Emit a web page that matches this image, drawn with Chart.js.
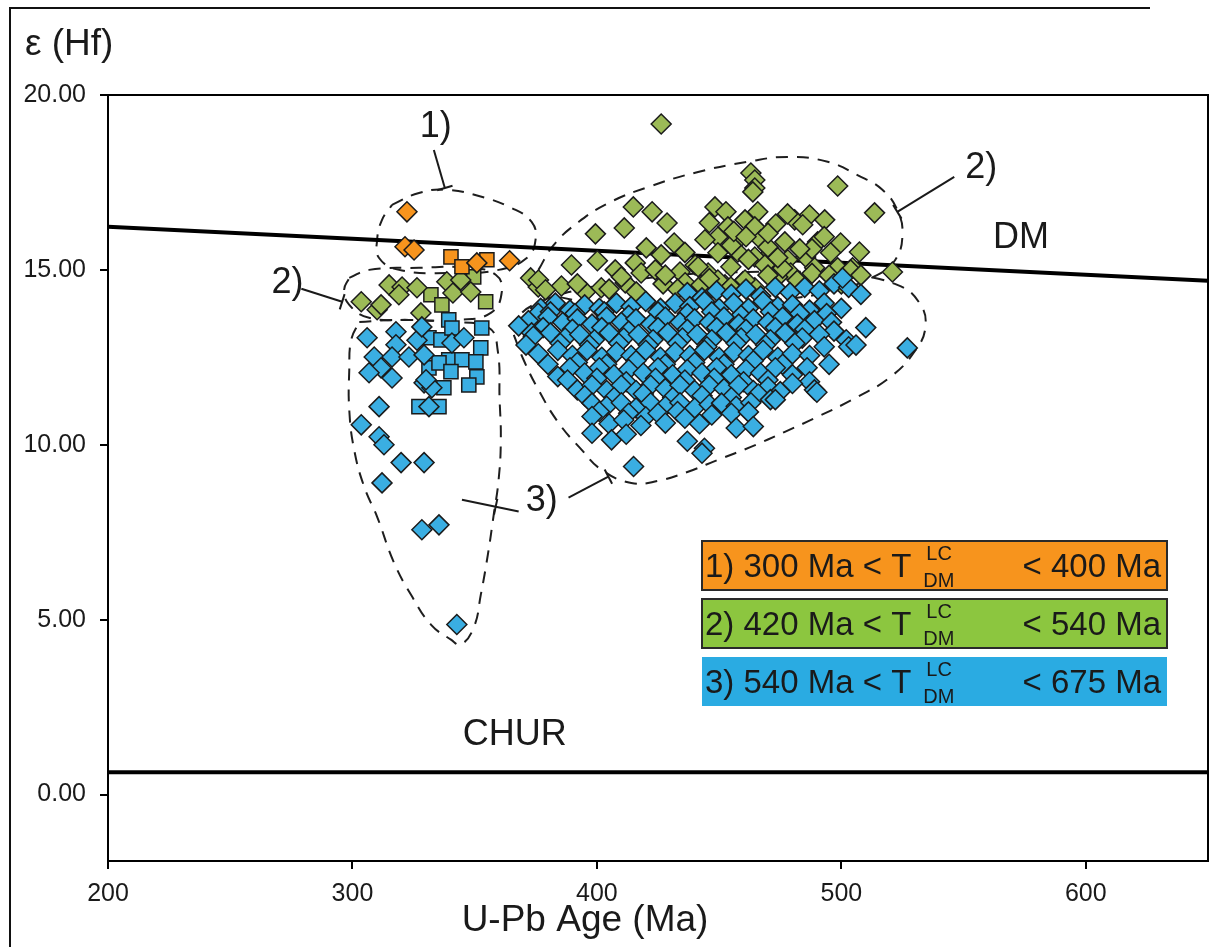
<!DOCTYPE html>
<html>
<head>
<meta charset="utf-8">
<title>εHf vs U-Pb age</title>
<script src="https://cdn.jsdelivr.net/npm/chart.js@4.4.1/dist/chart.umd.min.js"></script>
<style>
    html, body { margin: 0; padding: 0; background: #fff; }
    #wrap { width: 1215px; height: 947px; }
</style>
</head>
<body>
<div id="wrap"><canvas id="chart" width="1215" height="947"></canvas></div>
<script>
const FONT = '"Liberation Sans", Arial, Helvetica, sans-serif';

// Axes
const xRange = [200, 650];
const yRange = [-1.9, 20];
const xTicks = [200, 300, 400, 500, 600];
const yTicks = [0, 5, 10, 15, 20];

// Reference lines
const dmLine = [[200, 16.23], [650, 14.69]];
const churLine = [[200, 0.64], [650, 0.64]];

// 1) orange group
const orangeDiamonds = [[322.3, 16.66], [321.5, 15.66], [325.2, 15.57], [350.9, 15.2], [364.3, 15.26]];
const orangeSquares = [[340.3, 15.37], [344.8, 15.09], [355, 15.29]];

// 2) green group
const greenSquares = [[332.1, 14.29], [336.6, 14.0], [349.6, 14.8], [354.5, 14.09]];
const greenDiamonds = [
    [303.6, 14.09], [310.1, 13.86], [311.7, 14.0], [315, 14.57], [320.3, 14.51], [319, 14.29],
    [326.4, 14.49], [328, 13.77], [338.6, 14.66], [341.1, 14.34], [344.3, 14.71], [348.4, 14.37],
    [372.9, 14.77], [376, 14.51], [389.6, 15.14], [395.3, 14.37],
    [426.3, 19.17], [463, 17.77], [464.6, 17.57], [464.6, 17.34], [498.5, 17.4], [513.6, 16.63], [463.8, 17.23],
    [414.9, 16.8], [422.6, 16.66], [428.7, 16.34], [411.2, 16.2], [399.4, 16.03], [431.6, 15.77],
    [420.2, 15.63], [426.3, 15.43], [400.2, 15.26], [407.5, 15.0], [415.7, 15.2], [418.1, 14.91],
    [423.9, 15.0], [411.6, 14.63], [416.1, 14.37], [427.1, 14.6], [434, 14.94], [440.2, 15.14],
    [445.5, 14.91], [436.1, 14.63], [442.6, 14.57], [452.4, 14.57], [459.7, 14.66], [464.6, 14.49],
    [385.5, 14.54], [376.1, 14.71], [379, 14.43], [401.8, 14.49],
    [448.3, 16.8], [452.8, 16.66], [453.6, 16.23], [460.6, 16.43], [465.8, 16.66], [464.6, 16.23],
    [449.5, 15.94], [457.7, 15.86], [467.1, 15.86], [473.2, 16.31], [476.9, 15.8], [480.9, 16.43],
    [487, 16.57], [493.2, 16.43], [484.2, 16.29], [490.3, 15.8], [499.7, 15.77], [507.4, 15.51],
    [520.9, 14.94], [449.5, 15.49], [457.7, 15.51], [464.6, 15.37], [471.2, 15.49], [478.1, 15.29],
    [485.4, 15.37], [495.6, 15.49], [504.6, 15.06], [498.5, 15.06], [454.8, 15.09], [468.7, 15.14],
    [479.3, 14.91], [489.1, 15.06], [460.6, 14.71], [474, 14.8], [449.5, 14.71], [454.8, 14.51],
    [444.2, 15.86], [441.4, 15.09], [503.8, 15.0],
    [392, 14.6], [405, 14.45], [410, 14.8], [428, 14.85], [433, 14.45], [446, 14.75], [462, 15.3],
    [470, 14.85], [476, 15.05], [482, 14.7], [488, 14.9], [495, 14.85], [500, 14.6], [508, 14.85],
    [488, 15.6], [470, 15.65], [455, 15.7], [436, 15.5], [456, 16.1], [470, 16.05], [478, 16.6],
    [461, 15.95], [483, 15.6], [493, 15.95], [446, 16.35], [474, 15.35]
];

// 3) blue group
const blueSquares = [
    [331.3, 13.06], [336.2, 13.0], [339.4, 13.57], [340.7, 13.34], [352.9, 13.34], [352.5, 12.77],
    [339.4, 12.43], [344.8, 12.43], [350.5, 12.37], [331.3, 12.2], [335.4, 12.34], [340.3, 12.09],
    [350.9, 11.94], [347.6, 11.71], [337.4, 11.63], [327.2, 11.09], [335.4, 11.09]
];
const blueDiamonds = [
    // left cluster
    [306, 13.06], [317.8, 13.23], [308.9, 12.51], [317.8, 12.86], [316.2, 12.51], [323.1, 12.51],
    [326.4, 12.99], [311.7, 12.2], [306.8, 12.06], [316.2, 11.91], [329.3, 12.57], [340.7, 12.91],
    [345.6, 13.06], [329.3, 11.77], [332.5, 11.63], [331.3, 11.09], [310.9, 11.09], [303.6, 10.57],
    [328.4, 13.37], [330.1, 11.86], [310.9, 10.23], [312.9, 10.0], [319.9, 9.49], [329.3, 9.49],
    [312.1, 8.91], [328.4, 7.57], [335.4, 7.71], [342.7, 4.86],
    // right cluster
    [437, 14.35], [443, 14.2], [449, 14.4], [455, 14.3], [461, 14.45], [467, 14.25], [473, 14.5],
    [479, 14.35], [485, 14.5], [491, 14.4], [497, 14.6], [503, 14.5], [508, 14.3], [500.5, 14.77],
    [377, 13.9], [383, 14.05], [389, 13.85], [395, 14.0], [401, 13.9], [408, 14.05], [414, 13.95],
    [420, 14.1], [426, 13.9], [432, 14.05], [438, 13.95], [444, 14.1], [450, 13.9], [456, 14.05],
    [462, 13.9], [468, 14.1], [474, 13.95], [480, 14.0], [487, 13.85], [493, 14.05], [500, 13.9],
    [376, 13.76], [381, 13.8], [391, 13.75], [403, 13.8], [413, 13.7], [425, 13.8], [437, 13.75],
    [447, 13.8], [459, 13.7], [471, 13.8], [483, 13.75], [494, 13.75],
    [372, 13.55], [380, 13.65], [386, 13.5], [392, 13.6], [398, 13.45], [404, 13.65], [410, 13.5],
    [416, 13.6], [422, 13.45], [428, 13.65], [434, 13.5], [440, 13.6], [446, 13.5], [452, 13.65],
    [458, 13.45], [464, 13.6], [470, 13.5], [476, 13.65], [482, 13.45], [489, 13.55], [496, 13.5],
    [378, 13.35], [390, 13.3], [402, 13.35], [413, 13.25], [425, 13.35], [437, 13.3], [449, 13.35],
    [461, 13.3], [473, 13.35], [485, 13.3], [497, 13.25],
    [368, 13.4], [373.3, 13.2], [374, 13.1], [381, 13.2], [387, 13.05], [393, 13.15], [399, 13.0],
    [405, 13.2], [411, 13.05], [417, 13.15], [423, 13.0], [429, 13.2], [435, 13.05], [441, 13.15],
    [447, 13.0], [453, 13.2], [459, 13.05], [465, 13.15], [471, 13.0], [477, 13.2], [484, 13.05],
    [491, 13.15], [502, 13.0], [510, 13.35],
    [371, 12.85], [385, 12.9], [397, 12.85], [409, 12.9], [421, 12.85], [433, 12.9], [445, 12.8],
    [457, 12.9], [469, 12.85], [481, 12.9], [493, 12.8],
    [376, 12.6], [384, 12.7], [390, 12.55], [396, 12.7], [402, 12.5], [408, 12.65], [414, 12.55],
    [420, 12.7], [426, 12.5], [432, 12.65], [438, 12.55], [444, 12.7], [450, 12.5], [456, 12.65],
    [462, 12.55], [468, 12.7], [474, 12.5], [480, 12.6], [487, 12.55], [495, 12.3], [503, 12.8],
    [506, 12.85], [527, 12.77],
    [380, 12.3], [392, 12.35], [404, 12.3], [416, 12.4], [428, 12.3], [440, 12.35], [452, 12.3],
    [464, 12.4], [476, 12.3], [486, 12.2],
    [384, 11.95], [389, 12.2], [395, 12.05], [401, 12.2], [407, 12.0], [413, 12.15], [419, 12.05],
    [425, 12.2], [431, 12.0], [437, 12.15], [443, 12.05], [449, 12.2], [455, 12.0], [461, 12.15],
    [467, 12.05], [473, 12.2], [480, 12.0], [487, 11.8],
    [388, 11.85], [400, 11.9], [412, 11.8], [424, 11.9], [436, 11.85], [448, 11.9], [460, 11.8],
    [470, 11.85], [480, 11.75],
    [392, 11.57], [398, 11.7], [404, 11.55], [410, 11.7], [416, 11.55], [422, 11.7], [428, 11.6],
    [434, 11.7], [440, 11.55], [446, 11.7], [452, 11.6], [458, 11.7], [464, 11.55], [470, 11.65],
    [475, 11.52], [489, 11.57], [490, 11.5],
    [395, 11.4], [407, 11.35], [419, 11.45], [431, 11.35], [443, 11.4], [455, 11.35], [466, 11.45],
    [398, 11.19], [404, 11.1], [410, 11.2], [416, 11.05], [422, 11.2], [428, 11.1], [434, 11.2],
    [440, 11.05], [446, 11.15], [451, 11.19], [457, 11.1], [463, 11.2], [471, 11.29], [473, 11.29],
    [401, 10.95], [413, 10.9], [420, 10.8], [433, 10.95], [447, 10.85], [455, 10.9],
    [398, 10.81], [405, 10.6], [411, 10.71], [418, 10.55], [425, 10.9], [428, 10.62], [436, 10.76],
    [442, 10.6], [457, 10.48], [462, 10.94], [464, 10.52],
    [398, 10.33], [406, 10.14], [412, 10.3], [437, 10.1], [444, 9.9], [443, 9.76], [415, 9.38]
];

// Dashed envelopes (data units)
const envelope1 = [
    [316.2, 16.86], [327.2, 17.2], [338.2, 17.29], [351.7, 17.11], [365.1, 16.77], [373.3, 16.37],
    [374.9, 15.86], [371.3, 15.34], [359.8, 15.0], [339.4, 14.91], [319.1, 15.0], [310.9, 15.34],
    [310.1, 15.86], [312.1, 16.43]
];
const envelope2Left = [
    [298.7, 14.77], [306.8, 15.0], [327.2, 15.06], [347.6, 15.06], [358.6, 14.86], [361.1, 14.37],
    [356.6, 13.77], [343.5, 13.57], [323.1, 13.57], [306.8, 13.63], [298.7, 14.0], [296.6, 14.43]
];
const envelope2Right = [
    [376.1, 15.0], [382.3, 15.71], [392.5, 16.37], [404.7, 16.91], [421, 17.37], [441.4, 17.8],
    [461.8, 18.09], [478.1, 18.23], [494.4, 18.09], [506.6, 17.71], [516.8, 17.29], [522.9, 16.71],
    [525, 16.0], [522.1, 15.29], [514.8, 14.86], [498.5, 14.43], [474, 14.14], [441.4, 14.0],
    [408.8, 14.0], [386.3, 14.2], [376.9, 14.51]
];
const envelope3Left = [
    [302.8, 13.51], [319.1, 13.57], [339.4, 13.51], [355.8, 13.34], [359.4, 12.71], [360.2, 11.29],
    [360.7, 10.14], [359.8, 9.0], [357.8, 8.0], [355.4, 6.86], [352.5, 5.71], [349.6, 4.77],
    [344.3, 4.29], [340.3, 4.43], [332.1, 4.86], [324.4, 5.66], [317, 6.63], [310.1, 7.94],
    [304.8, 8.8], [300.7, 9.86], [298.7, 11.0], [298.7, 12.14], [299.5, 13.0]
];
const envelope3Right = [
    [366, 13.14], [370, 12.43], [376.1, 11.57], [384.3, 10.63], [393.7, 9.86], [401.8, 9.29],
    [414.1, 8.91], [425.1, 8.97], [437.3, 9.23], [449.5, 9.57], [463, 9.94], [476.9, 10.37],
    [490.3, 10.8], [506.6, 11.37], [520.1, 11.94], [529.9, 12.66], [534.4, 13.37], [531.9, 14.06],
    [522.9, 14.57], [502.5, 14.86], [461.8, 14.94], [421, 14.77], [392.5, 14.43], [374.1, 14.0],
    [367.2, 13.57]
];

// Labels and leaders (data units)
const labels = [
    { text: "1)", at: [334.1, 19.09] },
    { text: "2)", at: [273.4, 14.63] },
    { text: "2)", at: [557.2, 17.91] },
    { text: "3)", at: [377.4, 8.4] },
    { text: "DM", at: [573.5, 15.91] },
    { text: "CHUR", at: [366.4, 1.71] }
];
const leaders = [
    { from: [333.3, 18.43], to: [337.8, 17.34], tick: true },
    { from: [279.1, 14.46], to: [295.8, 14.09], tick: true },
    { from: [546.2, 17.66], to: [522.9, 16.66], tick: true },
    { from: [368, 8.09], to: [344.8, 8.43], mark: [358.6, 8.23] },
    { from: [388.4, 8.49], to: [404.7, 9.09], tick: true }
];

// Legend text
const legendHeads = ["1) 300 Ma < T", "2) 420 Ma < T", "3) 540 Ma < T"];
const legendTails = ["< 400 Ma", "< 540 Ma", "< 675 Ma"];
const legendFill = ["#f7941d", "#8cc63f", "#2aabe2"];
const legendStroke = ["#2a2a2a", "#2a2a2a", null];

function pts(list) {
    return list.map(([x, y]) => ({ x, y }));
}

function loop(list) {
    return pts(list.concat([list[0]]));
}

function markers(list, color, style, order) {
    return {
        data: pts(list),
        backgroundColor: color,
        borderColor: "#1b1b1b",
        borderWidth: 1.5,
        pointStyle: style,
        pointRadius: 10,
        pointHoverRadius: 10,
        order: order
    };
}

function envelope(list) {
    return {
        data: loop(list),
        showLine: true,
        borderColor: "#1e1e1e",
        borderWidth: 2,
        borderDash: [12, 9],
        tension: 0.45,
        pointRadius: 0,
        fill: false,
        order: 9
    };
}

function refLine(list) {
    return {
        data: pts(list),
        showLine: true,
        borderColor: "#000",
        borderWidth: 4,
        pointRadius: 0,
        fill: false,
        order: 8
    };
}

// Draw frames, labels, leaders and legend
const decorations = {
    id: "decorations",
    beforeDraw(chart) {
        const ctx = chart.ctx;
        ctx.save();
        ctx.fillStyle = "#fff";
        ctx.fillRect(0, 0, chart.width, chart.height);
        ctx.strokeStyle = "#111";
        ctx.lineWidth = 2;
        ctx.beginPath();
        ctx.moveTo(10, 947);
        ctx.lineTo(10, 8);
        ctx.lineTo(1150, 8);
        ctx.stroke();
        ctx.restore();
    },
    afterDatasetsDraw(chart) {
        const ctx = chart.ctx;
        const xs = chart.scales.x;
        const ys = chart.scales.y;
        const px = (p) => [xs.getPixelForValue(p[0]), ys.getPixelForValue(p[1])];
        const area = chart.chartArea;

        ctx.save();

        // plot frame
        ctx.strokeStyle = "#000";
        ctx.lineWidth = 2;
        ctx.strokeRect(area.left, area.top, area.right - area.left, area.bottom - area.top);

        // leaders
        ctx.lineWidth = 2;
        ctx.strokeStyle = "#1a1a1a";
        leaders.forEach((l) => {
            const a = px(l.from);
            const b = px(l.to);
            ctx.beginPath();
            ctx.moveTo(a[0], a[1]);
            ctx.lineTo(b[0], b[1]);
            ctx.stroke();
            const len = Math.hypot(b[0] - a[0], b[1] - a[1]);
            const nx = -(b[1] - a[1]) / len;
            const ny = (b[0] - a[0]) / len;
            const c = l.tick ? b : (l.mark ? px(l.mark) : null);
            if (c) {
                ctx.beginPath();
                ctx.moveTo(c[0] - nx * 8, c[1] - ny * 8);
                ctx.lineTo(c[0] + nx * 8, c[1] + ny * 8);
                ctx.stroke();
            }
        });

        // labels
        ctx.fillStyle = "#1a1a1a";
        ctx.font = "36px " + FONT;
        ctx.textAlign = "center";
        ctx.textBaseline = "middle";
        labels.forEach((t) => {
            const p = px(t.at);
            ctx.fillText(t.text, p[0], p[1]);
        });

        // legend boxes
        legendHeads.forEach((head, i) => {
            const top = 541 + i * 58;
            ctx.fillStyle = legendFill[i];
            ctx.fillRect(702, top, 465, 49);
            if (legendStroke[i]) {
                ctx.strokeStyle = legendStroke[i];
                ctx.lineWidth = 2;
                ctx.strokeRect(702, top, 465, 49);
            }
            const base = top + 36;
            ctx.fillStyle = "#1a1a1a";
            ctx.textBaseline = "alphabetic";
            ctx.textAlign = "left";
            ctx.font = "33px " + FONT;
            ctx.fillText(head, 705, base);
            const hx = 705 + ctx.measureText(head).width + 12;
            ctx.font = "20px " + FONT;
            ctx.fillText("DM", hx, base + 10);
            ctx.fillText("LC", hx + 3, base - 17);
            ctx.font = "33px " + FONT;
            ctx.textAlign = "right";
            ctx.fillText(legendTails[i], 1161, base);
        });

        ctx.restore();
    },
    afterDraw(chart) {
        const ctx = chart.ctx;
        ctx.save();
        ctx.fillStyle = "#1a1a1a";
        ctx.font = "37px " + FONT;
        ctx.textBaseline = "middle";
        ctx.textAlign = "left";
        ctx.fillText("ε (Hf)", 25, 45);
        ctx.textAlign = "center";
        ctx.fillText("U-Pb Age (Ma)", 585, 921);
        ctx.restore();
    }
};

const tickFont = { family: FONT, size: 25 };

new Chart(document.getElementById("chart"), {
    type: "scatter",
    data: {
        datasets: [
            envelope(envelope1),
            envelope(envelope2Left),
            envelope(envelope2Right),
            envelope(envelope3Left),
            envelope(envelope3Right),
            refLine(dmLine),
            refLine(churLine),
            markers(greenDiamonds, "#9cba57", "rectRot", 4),
            markers(greenSquares, "#9cba57", "rect", 4),
            markers(blueDiamonds, "#3aaee2", "rectRot", 3),
            markers(blueSquares, "#3aaee2", "rect", 3),
            markers(orangeDiamonds, "#f7941d", "rectRot", 2),
            markers(orangeSquares, "#f7941d", "rect", 2)
        ]
    },
    options: {
        responsive: false,
        animation: false,
        events: [],
        layout: { autoPadding: false, padding: { left: 0, top: 95, right: 7, bottom: 0 } },
        plugins: {
            legend: { display: false },
            tooltip: { enabled: false }
        },
        scales: {
            x: {
                type: "linear",
                min: xRange[0],
                max: xRange[1],
                afterBuildTicks: (s) => { s.ticks = xTicks.map((v) => ({ value: v })); },
                afterFit: (s) => {
                    s.height = 86;
                    s.paddingLeft = 0;
                    s.paddingRight = 0;
                },
                grid: { drawOnChartArea: false, drawTicks: true, tickLength: 8, color: "#000", lineWidth: 2 },
                border: { color: "#000", width: 2 },
                ticks: { font: tickFont, color: "#1a1a1a", padding: 10, maxRotation: 0 }
            },
            y: {
                type: "linear",
                min: yRange[0],
                max: yRange[1],
                afterBuildTicks: (s) => { s.ticks = yTicks.map((v) => ({ value: v })); },
                afterFit: (s) => {
                    s.width = 108;
                    s.paddingTop = 0;
                    s.paddingBottom = 0;
                },
                grid: { drawOnChartArea: false, drawTicks: true, tickLength: 8, color: "#000", lineWidth: 2 },
                border: { color: "#000", width: 2 },
                ticks: {
                    font: tickFont,
                    color: "#1a1a1a",
                    padding: 14,
                    callback: (v) => Number(v).toFixed(2)
                }
            }
        }
    },
    plugins: [decorations]
});
</script>
</body>
</html>
